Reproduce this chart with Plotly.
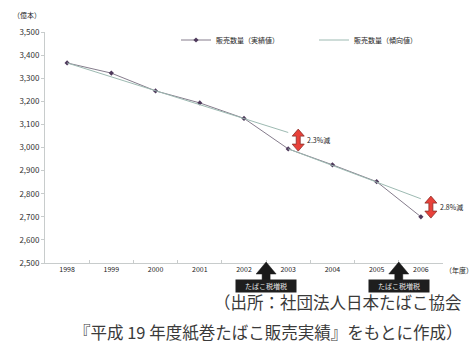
import plotly.graph_objects as go

years = ["1998", "1999", "2000", "2001", "2002", "2003", "2004", "2005", "2006"]
actual = [3366, 3322, 3245, 3193, 3126, 2994, 2925, 2852, 2700]
trend_x = ["1998", "1999", "2000", "2001", "2002", "2003", None, "2003", "2004", "2005", "2006"]
trend_y = [3366, 3306, 3245, 3185, 3125, 3065, None, 2994, 2922, 2850, 2778]
drop_cats = ["2003", "2006"]
drop_pos = [3032, 2742]
drop_labels = ["2.3%減", "2.8%減"]
tax_up_pos = [4.5, 7.5]
tax_label = "たばこ税増税"
yticks = [2500, 2600, 2700, 2800, 2900, 3000, 3100, 3200, 3300, 3400, 3500]

FONT = "Noto Sans CJK JP"
W, H = 474, 359
L, R, T, B = 45, 31, 32, 96
PH = H - T - B
PW = W - L - R


def py_to_paper(py):
    return (T + PH - py) / PH


fig = go.Figure()
fig.add_trace(go.Scatter(
    x=years, y=actual, mode="lines+markers", name="販売数量（実績値）",
    line=dict(color="#857c8c", width=1),
    marker=dict(symbol="diamond", size=4, color="#4f3a5c"),
))
fig.add_trace(go.Scatter(
    x=trend_x, y=trend_y, mode="lines", name="販売数量（傾向値）",
    line=dict(color="#9dbab2", width=1), connectgaps=False,
))

shapes = []
annotations = []

# red double arrows (pixel-sized, anchored at data point, offset right)
red_path = ("M 10 -11 L 16 -4 L 12 -4 L 12 4 L 16 4 L 10 11 L 4 4 L 8 4 "
            "L 8 -4 L 4 -4 Z")
for cat, val, txt in zip(drop_cats, drop_pos, drop_labels):
    idx = years.index(cat)
    shapes.append(dict(
        type="path", xref="x", yref="y", xsizemode="pixel", ysizemode="pixel",
        xanchor=idx, yanchor=val, path=red_path,
        fillcolor="#e8413a", line=dict(color="#8a2f29", width=0.8),
    ))
    annotations.append(dict(
        x=idx, y=val, xref="x", yref="y", text=txt, showarrow=False,
        xanchor="left", xshift=17, font=dict(size=7, color="#222", family=FONT),
    ))

# black tax-increase arrows under x axis
blk_path = "M -4 0 L -4 15 L -10 15 L 0 27 L 10 15 L 4 15 L 4 0 Z"
for pos in tax_up_pos:
    shapes.append(dict(
        type="path", xref="x", yref="paper", xsizemode="pixel", ysizemode="pixel",
        xanchor=pos, yanchor=py_to_paper(289), path=blk_path,
        fillcolor="#1a1a1a", line=dict(color="#1a1a1a", width=0.5),
    ))
    annotations.append(dict(
        x=pos, y=py_to_paper(293), xref="x", yref="paper", text=tax_label,
        showarrow=False, bgcolor="#1e1e1e", font=dict(size=7, color="#e8e8e8", family=FONT),
        borderpad=1, width=58,
    ))

annotations += [
    dict(x=-0.005, y=1.045, xref="paper", yref="paper", text="（億本）", showarrow=False,
         xanchor="right", yanchor="bottom", font=dict(size=7, color="#222", family=FONT)),
    dict(x=1.0, y=py_to_paper(277), xref="paper", yref="paper", text="（年度）",
         showarrow=False, xanchor="left", font=dict(size=7, color="#222", family=FONT)),
    dict(x=(464 - L) / PW, y=py_to_paper(316), xref="paper", yref="paper",
         text="（出所：社団法人日本たばこ協会", showarrow=False, xanchor="right",
         font=dict(size=16.5, color="#3a3a3a", family=FONT)),
    dict(x=(464 - L) / PW, y=py_to_paper(346), xref="paper", yref="paper",
         text="『平成 19 年度紙巻たばこ販売実績』をもとに作成）", showarrow=False, xanchor="right",
         font=dict(size=16.5, color="#3a3a3a", family=FONT)),
]

fig.update_layout(
    width=W, height=H, margin=dict(l=L, r=R, t=T, b=B, autoexpand=False),
    paper_bgcolor="white", plot_bgcolor="white",
    font=dict(family=FONT, size=7, color="#222"),
    showlegend=True,
    legend=dict(orientation="h", x=(176 - L) / PW, y=py_to_paper(40), xanchor="left",
                yanchor="middle", font=dict(size=7, family=FONT), bgcolor="rgba(0,0,0,0)",
                itemwidth=30, entrywidth=93, entrywidthmode="pixels"),
    shapes=shapes, annotations=annotations,
)
fig.update_xaxes(type="category", categoryorder="array", categoryarray=years,
                 range=[-0.5, 8.5], showline=True, linecolor="#c8cccc", linewidth=1,
                 showgrid=False, ticks="inside", ticklen=3, tickcolor="#c8cccc",
                 tickson="boundaries", tickfont=dict(size=7, color="#222"), zeroline=False)
fig.update_yaxes(range=[2500, 3500], tickvals=yticks, tickformat=",", showline=True,
                 linecolor="#c8cccc", linewidth=1, showgrid=False, ticks="outside",
                 ticklen=3, tickcolor="#c8cccc", tickfont=dict(size=8, color="#333"),
                 zeroline=False)

fig.write_html("out.html")
